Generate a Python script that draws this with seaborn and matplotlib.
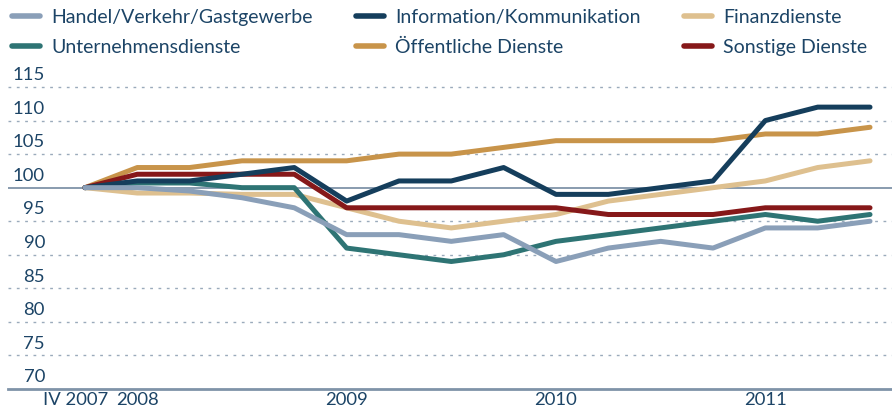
import numpy as np
import pandas as pd
import seaborn as sns
import matplotlib.pyplot as plt
import matplotlib.transforms as mtransforms
from matplotlib.lines import Line2D

quartale = ["IV 2007", "I 2008", "II 2008", "III 2008", "IV 2008",
            "I 2009", "II 2009", "III 2009", "IV 2009",
            "I 2010", "II 2010", "III 2010", "IV 2010",
            "I 2011", "II 2011", "III 2011"]

handel = [100, 100, 99.5, 98.5, 97, 93, 93, 92, 93, 89, 91, 92, 91, 94, 94, 95]
unternehmen = [100, 100.7, 100.7, 100, 100, 91, 90, 89, 90, 92, 93, 94, 95, 96, 95, 96]
information = [100, 101, 101, 102, 103, 98, 101, 101, 103, 99, 99, 100, 101, 110, 112, 112]
oeffentlich = [100, 103, 103, 104, 104, 104, 105, 105, 106, 107, 107, 107, 107, 108, 108, 109]
finanz = [100, 99.2, 99.2, 99, 99, 97, 95, 94, 95, 96, 98, 99, 100, 101, 103, 104]
sonstige = [100, 102, 102, 102, 102, 97, 97, 97, 97, 97, 96, 96, 96, 97, 97, 97]

namen = ["Handel/Verkehr/Gastgewerbe", "Unternehmensdienste",
         "Information/Kommunikation", "Öffentliche Dienste",
         "Finanzdienste", "Sonstige Dienste"]
farben = ["#8a9fb8", "#2e7474", "#153e5c", "#c8944a", "#dec08f", "#861819"]
reihen = [handel, unternehmen, information, oeffentlich, finanz, sonstige]

jahr_ticks = [0, 1, 5, 9, 13]
jahr_labels = ["IV 2007", "2008", "2009", "2010", "2011"]
y_ticks = [70, 75, 80, 85, 90, 95, 100, 105, 110, 115]

rows = []
for name, werte in zip(namen, reihen):
    for i, v in enumerate(werte):
        rows.append({"pos": i, "wert": v, "bereich": name})
df = pd.DataFrame(rows)

sns.set_style("white")
plt.rcParams["font.family"] = ["Lato", "DejaVu Sans"]
textfarbe = "#1c4466"

fig = plt.figure(figsize=(8.92, 4.12), dpi=100)
ax = fig.add_axes([8 / 892, 23 / 412, 884 / 892, 0.7656])

# Gitter zuerst
for y in y_ticks[1:]:
    if y == 100:
        ax.axhline(y, color="#7f93a8", lw=1.3, zorder=1)
    else:
        ax.axhline(y, color="#9aaabb", lw=1, ls=(0, (2, 4)), zorder=1)

# Zeichenreihenfolge: Handel oben
draw_order = ["Finanzdienste", "Unternehmensdienste", "Öffentliche Dienste",
              "Sonstige Dienste", "Information/Kommunikation",
              "Handel/Verkehr/Gastgewerbe"]
pal = dict(zip(namen, farben))
for z, name in enumerate(draw_order):
    sns.lineplot(data=df[df["bereich"] == name], x="pos", y="wert",
                 color=pal[name], lw=3.6, ax=ax, sort=False,
                 solid_capstyle="round", solid_joinstyle="round",
                 zorder=3 + z, legend=False)

ax.set_xlim(-1.47, 15.42)
ax.set_ylim(70, 117)
for s in ["top", "right", "left"]:
    ax.spines[s].set_visible(False)
ax.spines["bottom"].set_color("#7f93a8")
ax.spines["bottom"].set_linewidth(2)
ax.set_yticks([])
ax.set_xlabel("")
ax.set_ylabel("")

ax.set_xticks(jahr_ticks)
ax.set_xticklabels(jahr_labels, fontsize=13.3, color=textfarbe)
ax.tick_params(axis="x", length=0, pad=2)
verschiebung = mtransforms.ScaledTranslation(-9 / 100, 0, fig.dpi_scale_trans)
ax.get_xticklabels()[0].set_transform(ax.get_xticklabels()[0].get_transform() + verschiebung)

trans = mtransforms.blended_transform_factory(fig.transFigure, ax.transData)
for y in y_ticks:
    ax.text(45 / 892, y + 1.75, str(y), transform=trans, ha="right", va="center",
            fontsize=13.3, color=textfarbe)

# Legende
handles = [Line2D([0], [0], color=c, lw=4, solid_capstyle="round") for c in farben]
leg = fig.legend(handles, namen, ncol=3, loc="upper left",
                 bbox_to_anchor=(12 / 892, 1 - 9 / 412), frameon=False,
                 fontsize=14, handlelength=1.45, handletextpad=0.55,
                 columnspacing=2.25, labelspacing=0.65,
                 borderpad=0, borderaxespad=0)
for t in leg.get_texts():
    t.set_color(textfarbe)

plt.savefig("out.png", dpi=100)
